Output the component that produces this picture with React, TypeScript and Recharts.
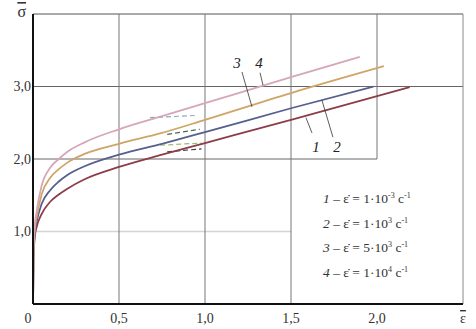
import {
  LineChart,
  Line,
  XAxis,
  YAxis,
  ReferenceLine,
  ReferenceDot,
  Legend,
} from "recharts";

// strain / stress (curve numbers as in the figure)
const strain1 = [0, 0.003, 0.01, 0.02, 0.05, 0.1, 0.15, 0.2, 0.3, 0.5, 0.75, 1.0, 1.5, 2.19];
const stress1 = [0, 0.6, 0.92, 1.05, 1.24, 1.41, 1.51, 1.59, 1.72, 1.89, 2.06, 2.22, 2.54, 2.99];

const strain2 = [0, 0.003, 0.01, 0.02, 0.05, 0.1, 0.15, 0.2, 0.3, 0.5, 0.75, 1.0, 1.5, 1.98];
const stress2 = [0, 0.65, 0.98, 1.12, 1.38, 1.57, 1.69, 1.78, 1.9, 2.06, 2.21, 2.37, 2.7, 3.0];

const strain3 = [0, 0.003, 0.01, 0.02, 0.05, 0.1, 0.15, 0.2, 0.3, 0.5, 0.75, 1.0, 1.5, 2.04];
const stress3 = [0, 0.7, 1.02, 1.18, 1.51, 1.74, 1.86, 1.95, 2.07, 2.21, 2.36, 2.54, 2.91, 3.28];

const strain4 = [0, 0.003, 0.01, 0.02, 0.05, 0.1, 0.15, 0.2, 0.3, 0.5, 0.75, 1.0, 1.5, 1.9];
const stress4 = [0, 0.75, 1.08, 1.26, 1.63, 1.88, 2.0, 2.1, 2.23, 2.41, 2.59, 2.77, 3.13, 3.41];

// short dashed segments around eps = 0.7 .. 1.0
const dashStrainA = [0.68, 0.94];
const dashStressA = [2.57, 2.6];
const dashStrainB = [0.78, 0.97];
const dashStressB = [2.34, 2.41];
const dashStrainC = [0.74, 0.98];
const dashStressC = [2.19, 2.22];
const dashStrainD = [0.78, 0.98];
const dashStressD = [2.1, 2.14];

const xTicks = [0, 0.5, 1, 1.5, 2, 2.5];
const xTickLabels = ["0", "0,5", "1,0", "1,5", "2,0", "ε"];
const yTicks = [1, 2, 3, 4];
const yTickLabels = ["1,0", "2,0", "3,0", "σ"];

const rateNumbers = ["1", "2", "3", "4"];
const rateMantissa = ["1", "1", "5", "1"];
const rateExponent = ["-3", "3", "3", "4"];

const colors = ["#8c3d47", "#55608f", "#cfa567", "#d6a7b6"];

const toPoints = (e: number[], s: number[]) => e.map((v, i) => ({ e: v, s: s[i] }));

const curves = [
  toPoints(strain1, stress1),
  toPoints(strain2, stress2),
  toPoints(strain3, stress3),
  toPoints(strain4, stress4),
];

const dashes = [
  { data: toPoints(dashStrainA, dashStressA), color: "#8fa6c2" },
  { data: toPoints(dashStrainB, dashStressB), color: "#50665a" },
  { data: toPoints(dashStrainC, dashStressC), color: "#a9b86c" },
  { data: toPoints(dashStrainD, dashStressD), color: "#404040" },
];

// curve number labels with their leader lines
const leaders = [
  { text: "1", at: [1.645, 2.16], from: [1.587, 2.57], to: [1.622, 2.36] },
  { text: "2", at: [1.767, 2.16], from: [1.68, 2.81], to: [1.744, 2.3] },
  { text: "3", at: [1.186, 3.32], from: [1.215, 3.2], to: [1.273, 2.72] },
  { text: "4", at: [1.314, 3.32], from: [1.32, 3.19], to: [1.337, 3.02] },
];

const FONT = "Liberation Serif, Times New Roman, serif";

const XTick = (props: any) => {
  const { x, y, index } = props;
  const label = xTickLabels[index];
  const shift = index === 0 ? -5 : 0;
  return (
    <text
      x={x + shift}
      y={y + 17}
      textAnchor="middle"
      fontFamily={FONT}
      fontSize={14}
      fill="#333"
      style={index === 5 ? { textDecoration: "overline" } : undefined}
    >
      {label}
    </text>
  );
};

const YTick = (props: any) => {
  const { x, y, index } = props;
  const label = yTickLabels[index];
  const isSymbol = index === 3;
  return (
    <text
      x={isSymbol ? x - 5 : x}
      y={isSymbol ? y + 3 : y + 4.5}
      textAnchor="end"
      fontFamily={FONT}
      fontSize={isSymbol ? 16 : 14}
      fill="#333"
      style={isSymbol ? { textDecoration: "overline" } : undefined}
    >
      {label}
    </text>
  );
};

const RateLegend = () => (
  <div style={{ fontFamily: FONT, fontSize: 13.5, color: "#333", lineHeight: "21.5px" }}>
    {rateNumbers.map((n, i) => (
      <div key={n} style={{ whiteSpace: "nowrap" }}>
        <i>{n}</i> – ε{"\u0307"} = {rateMantissa[i]}·10
        <span style={{ fontSize: 8, verticalAlign: 5 }}>{rateExponent[i]}</span> с
        <span style={{ fontSize: 8, verticalAlign: 5 }}>-1</span>
      </div>
    ))}
  </div>
);

export default function App() {
  return (
    <div style={{ position: "fixed", left: 0, top: 0, width: 476, height: 329, background: "#fff" }}>
      <LineChart width={476} height={329} margin={{ top: 14, right: 13, left: 0, bottom: 0 }}>
        <XAxis
          type="number"
          dataKey="e"
          domain={[0, 2.5]}
          ticks={xTicks}
          tick={<XTick />}
          tickLine={false}
          tickSize={0}
          height={25}
          axisLine={{ stroke: "#111", strokeWidth: 2 }}
          allowDataOverflow
        />
        <YAxis
          type="number"
          dataKey="s"
          domain={[0, 4]}
          ticks={yTicks}
          tick={<YTick />}
          tickLine={false}
          tickSize={0}
          tickMargin={2}
          width={33}
          axisLine={{ stroke: "#111", strokeWidth: 2 }}
          allowDataOverflow
        />

        {/* grid, leaving the legend cell empty */}
        <ReferenceLine segment={[{ x: 0, y: 1 }, { x: 1.5, y: 1 }]} stroke="#d4d4d4" strokeWidth={1.5} />
        <ReferenceLine segment={[{ x: 0, y: 2 }, { x: 2, y: 2 }]} stroke="#666" />
        <ReferenceLine segment={[{ x: 0, y: 3 }, { x: 2.5, y: 3 }]} stroke="#666" />
        <ReferenceLine segment={[{ x: 0, y: 4 }, { x: 2.5, y: 4 }]} stroke="#555" />
        <ReferenceLine segment={[{ x: 0.5, y: 0 }, { x: 0.5, y: 4 }]} stroke="#777" />
        <ReferenceLine segment={[{ x: 1, y: 0 }, { x: 1, y: 4 }]} stroke="#777" />
        <ReferenceLine segment={[{ x: 1.5, y: 0 }, { x: 1.5, y: 4 }]} stroke="#777" />
        <ReferenceLine segment={[{ x: 2, y: 2 }, { x: 2, y: 4 }]} stroke="#777" />
        <ReferenceLine segment={[{ x: 2.5, y: 0 }, { x: 2.5, y: 4 }]} stroke="#888" />

        {dashes.map((d, i) => (
          <Line
            key={"d" + i}
            data={d.data}
            dataKey="s"
            type="linear"
            stroke={d.color}
            strokeWidth={1.2}
            strokeDasharray="5 3"
            dot={false}
            isAnimationActive={false}
          />
        ))}

        {curves.map((c, i) => (
          <Line
            key={"c" + i}
            data={c}
            dataKey="s"
            name={rateNumbers[i]}
            type="monotone"
            stroke={colors[i]}
            strokeWidth={1.8}
            dot={false}
            isAnimationActive={false}
          />
        ))}

        {leaders.map((l) => (
          <ReferenceLine
            key={"l" + l.text}
            segment={[{ x: l.from[0], y: l.from[1] }, { x: l.to[0], y: l.to[1] }]}
            stroke="#333"
            strokeWidth={0.8}
          />
        ))}
        {leaders.map((l) => (
          <ReferenceDot
            key={"t" + l.text}
            x={l.at[0]}
            y={l.at[1]}
            r={0}
            fill="none"
            stroke="none"
            label={({ viewBox }: any) => (
              <text
                x={viewBox.x}
                y={viewBox.y + 5}
                textAnchor="middle"
                fontFamily={FONT}
                fontStyle="italic"
                fontSize={15}
                fill="#222"
              >
                {l.text}
              </text>
            )}
          />
        ))}

        <Legend
          layout="vertical"
          align="center"
          verticalAlign="middle"
          content={<RateLegend />}
          wrapperStyle={{ left: 323, top: 185, width: 140 }}
        />
      </LineChart>
    </div>
  );
}
